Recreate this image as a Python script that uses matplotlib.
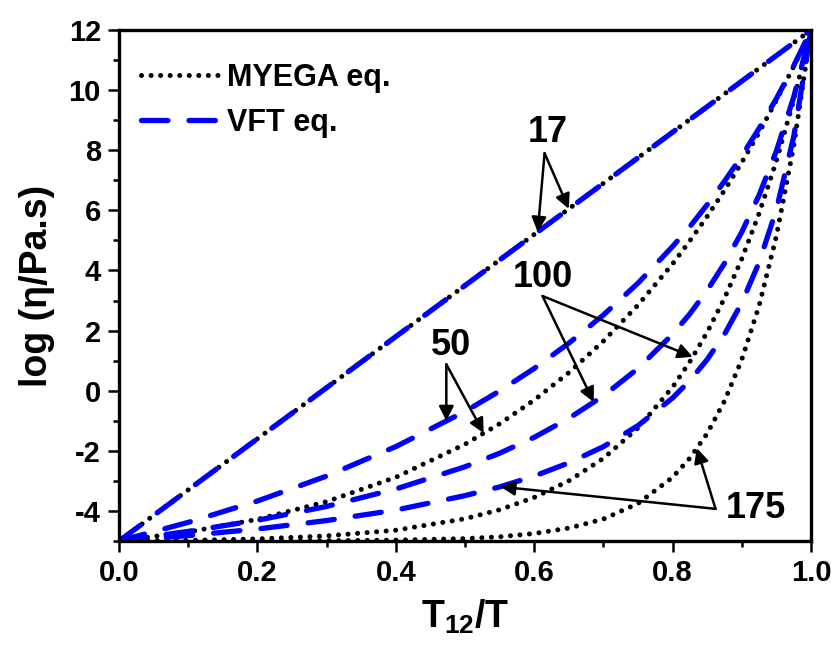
import numpy as np
import matplotlib
matplotlib.use("Agg")
import matplotlib.pyplot as plt

plt.rcParams['font.family'] = ['Liberation Sans', 'DejaVu Sans']
plt.rcParams['font.weight'] = 'bold'
plt.rcParams['axes.labelweight'] = 'bold'
plt.rcParams['axes.unicode_minus'] = False
plt.rcParams['mathtext.fontset'] = 'custom'
plt.rcParams['mathtext.rm'] = 'Liberation Sans:bold'
plt.rcParams['mathtext.default'] = 'rm'

# T12/T grid the curves were read on
x = [0.0, 0.1, 0.2, 0.3, 0.4, 0.5, 0.55, 0.6, 0.65, 0.7, 0.75, 0.8,
     0.825, 0.85, 0.875, 0.9, 0.925, 0.95, 0.975, 1.0]

# log viscosity, MYEGA fits (m = 50, 100, 175)
myega_50 = [-5.00, -4.70, -4.28, -3.69, -2.88, -1.78, -1.10, -0.31, 0.60, 1.65,
            2.85, 4.22, 4.99, 5.80, 6.67, 7.60, 8.59, 9.66, 10.79, 12.00]
myega_100 = [-5.00, -4.98, -4.93, -4.83, -4.64, -4.26, -3.96, -3.55, -3.00, -2.25,
             -1.24, 0.12, 0.97, 1.95, 3.08, 4.39, 5.90, 7.65, 9.67, 12.00]
myega_175 = [-5.00, -5.00, -5.00, -4.99, -4.97, -4.92, -4.86, -4.75, -4.57, -4.27,
             -3.75, -2.88, -2.24, -1.42, -0.34, 1.04, 2.83, 5.15, 8.14, 12.00]

# log viscosity, VFT fits (m = 50, 100, 175)
vft_50 = [-5.00, -4.38, -3.67, -2.84, -1.86, -0.69, -0.01, 0.74, 1.58, 2.52,
          3.58, 4.80, 5.46, 6.19, 6.97, 7.81, 8.73, 9.72, 10.81, 12.00]
vft_100 = [-5.00, -4.68, -4.31, -3.85, -3.27, -2.53, -2.08, -1.55, -0.92, -0.17,
           0.74, 1.88, 2.56, 3.34, 4.24, 5.28, 6.51, 7.98, 9.77, 12.00]
vft_175 = [-5.00, -4.82, -4.60, -4.32, -3.97, -3.49, -3.20, -2.84, -2.40, -1.86,
           -1.16, -0.24, 0.34, 1.04, 1.88, 2.93, 4.27, 6.03, 8.45, 12.00]

# strong liquid, m = 17: both models give the same straight line
x_17 = [0.0, 1.0]
line_17 = [-5.0, 12.0]

dot_style = dict(color='black', lw=3.6, linestyle=(0, (0.01, 1.9)),
                 dash_capstyle='round')
dash_style = dict(color='#0000ff', lw=3.8, linestyle=(0, (5.0, 4.0)),
                  dash_capstyle='round')

fig = plt.figure(figsize=(8.35, 6.48), dpi=100)
ax = fig.add_axes([0.1425, 0.1651, 0.8288, 0.7886])

ax.plot(x_17, line_17, label='MYEGA eq.', **dot_style)
for y in (myega_50, myega_100, myega_175):
    ax.plot(x, y, **dot_style)
ax.plot(x_17, line_17, label='VFT eq.', **dash_style)
for y in (vft_50, vft_100, vft_175):
    ax.plot(x, y, **dash_style)

ax.set_xlim(0, 1)
ax.set_ylim(-5, 12)
ax.set_xticks(np.arange(0, 1.01, 0.2))
ax.set_xticks(np.arange(0, 1.01, 0.1), minor=True)
ax.set_yticks(np.arange(-4, 12.1, 2))
ax.set_yticks(np.arange(-5, 12.1, 1), minor=True)
ax.set_xticklabels(['%.1f' % v for v in np.arange(0, 1.01, 0.2)])
ax.tick_params(which='major', direction='out', length=8, width=1.8,
               labelsize=21, pad=5)
ax.tick_params(which='minor', direction='out', length=4, width=1.8)
ax.tick_params(top=False, right=False, which='both')
for s in ax.spines.values():
    s.set_linewidth(2.4)

ax.set_xlabel(r'T$_{12}$/T', fontsize=27, labelpad=8)
ax.set_ylabel('log (η/Pa.s)', fontsize=27, labelpad=10)

leg = ax.legend(loc='upper left', frameon=False, fontsize=22,
                handlelength=2.6, handletextpad=0.2, labelspacing=0.5,
                bbox_to_anchor=(-0.008, 0.99))


def on_curve(xv, xs, ys):
    return (xv, float(np.interp(xv, xs, ys)))


arrow = dict(arrowstyle='-|>', color='black', lw=1.8, mutation_scale=22,
             shrinkA=0, shrinkB=0)

# fragility labels with arrows pointing at their curves
labels = [
    ('17', (0.62, 8.6), (0.615, 7.9),
     [on_curve(0.605, x_17, line_17), on_curve(0.650, x_17, line_17)]),
    ('100', (0.612, 3.75), (0.612, 3.15),
     [on_curve(0.829, x, myega_100), on_curve(0.686, x, vft_100)]),
    ('50', (0.48, 1.5), (0.473, 0.88),
     [on_curve(0.473, x, vft_50), on_curve(0.527, x, myega_50)]),
    ('175', (0.92, -3.93), (0.862, -3.93),
     [on_curve(0.835, x, myega_175), on_curve(0.551, x, vft_175)]),
]
for text, pos, start, tips in labels:
    ax.text(pos[0], pos[1], text, fontsize=26, ha='center', va='center')
    for tip in tips:
        ax.annotate('', xy=tip, xytext=start, arrowprops=arrow)

fig.savefig('out.png', dpi=100)
